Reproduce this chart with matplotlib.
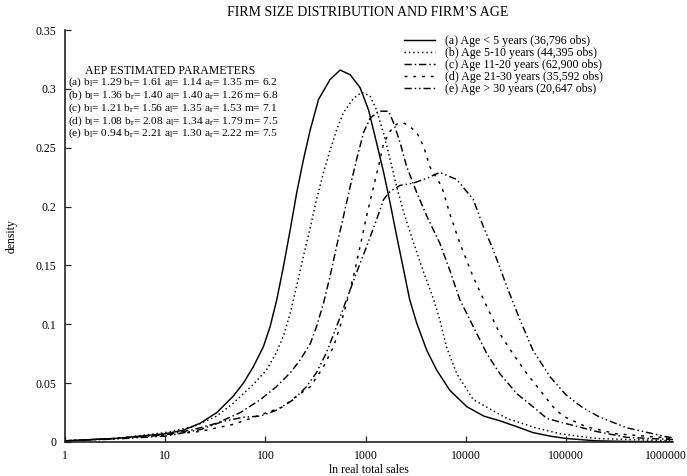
import numpy as np
import matplotlib
matplotlib.use('Agg')
import matplotlib.pyplot as plt
from matplotlib.ticker import NullLocator, FixedLocator, FixedFormatter

plt.rcParams['font.family'] = ['Liberation Serif', 'DejaVu Serif']
plt.rcParams['mathtext.fontset'] = 'custom'
plt.rcParams['mathtext.rm'] = 'Liberation Serif'
plt.rcParams['mathtext.it'] = 'Liberation Serif:italic'

# ---- data: log10(real total sales) and density ----
a_logx = [0, 0.5, 1.0, 1.18, 1.35, 1.515, 1.68, 1.78, 1.88, 1.98, 2.047, 2.114, 2.18, 2.247, 2.313,
          2.38, 2.447, 2.53, 2.646, 2.746, 2.846, 2.945, 3.03, 3.11, 3.18, 3.245, 3.31, 3.38, 3.44,
          3.51, 3.61, 3.71, 3.84, 4.01, 4.18, 4.34, 4.51, 4.67, 4.84, 5.0, 5.3, 5.6, 6.07]
a_dens = [0.001, 0.003, 0.007, 0.010, 0.016, 0.025, 0.039, 0.050, 0.064, 0.081, 0.098, 0.121, 0.149,
          0.180, 0.212, 0.240, 0.265, 0.291, 0.308, 0.316, 0.312, 0.301, 0.282, 0.254, 0.229, 0.203,
          0.175, 0.146, 0.121, 0.101, 0.078, 0.061, 0.044, 0.030, 0.022, 0.018, 0.013, 0.008, 0.005,
          0.003, 0.001, 0.0005, 0.0002]

b_logx = [0, 0.5, 1.0, 1.28, 1.515, 1.68, 1.88, 2.01, 2.11, 2.18, 2.25, 2.31, 2.38, 2.45, 2.51, 2.58,
          2.646, 2.71, 2.78, 2.88, 2.96, 3.045, 3.11, 3.18, 3.245, 3.31, 3.38, 3.48, 3.58, 3.68, 3.74,
          3.81, 3.91, 4.075, 4.41, 4.7, 4.94, 5.3, 6.07]
b_dens = [0.001, 0.003, 0.008, 0.013, 0.022, 0.033, 0.049, 0.061, 0.076, 0.090, 0.110, 0.132, 0.158,
          0.183, 0.206, 0.229, 0.248, 0.265, 0.280, 0.292, 0.297, 0.294, 0.282, 0.262, 0.240, 0.217,
          0.195, 0.169, 0.144, 0.121, 0.104, 0.080, 0.058, 0.036, 0.020, 0.012, 0.007, 0.003, 0.001]

c_logx = [0, 0.5, 1.0, 1.28, 1.515, 1.75, 1.95, 2.11, 2.25, 2.35, 2.45, 2.51, 2.58, 2.646, 2.71, 2.78,
          2.846, 2.91, 2.98, 3.045, 3.13, 3.23, 3.28, 3.345, 3.41, 3.51, 3.61, 3.74, 3.84, 3.94, 4.075,
          4.21, 4.34, 4.51, 4.67, 4.81, 4.94, 5.3, 5.6, 6.07]
c_dens = [0.001, 0.003, 0.006, 0.0105, 0.016, 0.025, 0.036, 0.047, 0.059, 0.070, 0.084, 0.098, 0.118,
          0.141, 0.166, 0.192, 0.217, 0.240, 0.263, 0.275, 0.281, 0.281, 0.271, 0.254, 0.234, 0.212,
          0.192, 0.169, 0.146, 0.121, 0.098, 0.075, 0.058, 0.041, 0.030, 0.020, 0.017, 0.009, 0.004, 0.002]

d_logx = [0, 0.5, 1.0, 1.35, 1.68, 1.95, 2.18, 2.31, 2.45, 2.58, 2.68, 2.745, 2.81, 2.88, 2.945, 3.01,
          3.08, 3.145, 3.18, 3.245, 3.31, 3.38, 3.44, 3.51, 3.58, 3.64, 3.76, 3.84, 3.94, 4.075, 4.21,
          4.34, 4.47, 4.61, 4.74, 4.87, 4.97, 5.2, 5.5, 6.07]
d_dens = [0.001, 0.003, 0.006, 0.009, 0.015, 0.023, 0.030, 0.039, 0.047, 0.064, 0.081, 0.098, 0.118,
          0.141, 0.166, 0.192, 0.217, 0.240, 0.254, 0.264, 0.270, 0.271, 0.268, 0.263, 0.251, 0.234,
          0.217, 0.194, 0.169, 0.140, 0.115, 0.092, 0.075, 0.058, 0.044, 0.030, 0.022, 0.013, 0.007, 0.003]

e_logx = [0, 0.5, 1.0, 1.35, 1.58, 1.78, 1.95, 2.11, 2.28, 2.41, 2.51, 2.61, 2.71, 2.81, 2.91, 3.01,
          3.11, 3.18, 3.245, 3.345, 3.48, 3.61, 3.74, 3.91, 4.075, 4.175, 4.275, 4.41, 4.54, 4.67, 4.84,
          5.0, 5.17, 5.34, 5.61, 6.0, 6.07]
e_dens = [0.001, 0.0025, 0.005, 0.0105, 0.0176, 0.021, 0.022, 0.027, 0.036, 0.047, 0.059, 0.076, 0.098,
          0.121, 0.144, 0.166, 0.189, 0.206, 0.213, 0.218, 0.220, 0.224, 0.229, 0.223, 0.206, 0.183,
          0.163, 0.132, 0.104, 0.078, 0.0555, 0.040, 0.029, 0.021, 0.012, 0.0045, 0.0035]

series_labels = ['(a) Age < 5 years (36,796 obs)',
                 '(b) Age 5-10 years (44,395 obs)',
                 '(c) Age 11-20 years (62,900 obs)',
                 '(d) Age 21-30 years (35,592 obs)',
                 '(e) Age > 30 years (20,647 obs)']

param_tags = ['(a)', '(b)', '(c)', '(d)', '(e)']
b_l = ['1.29', '1.36', '1.21', '1.08', '0.94']
b_r = ['1.61', '1.40', '1.56', '2.08', '2.21']
a_l = ['1.14', '1.40', '1.35', '1.34', '1.30']
a_r = ['1.35', '1.26', '1.53', '1.79', '2.22']
m_val = ['6.2', '6.8', '7.1', '7.5', '7.5']

xtick_vals = [1, 10, 100, 1000, 10000, 100000, 1000000]
xtick_labels = ['1', '10', '100', '1000', '10000', '100000', '1000000']
ytick_vals = [0, 0.05, 0.1, 0.15, 0.2, 0.25, 0.3, 0.35]
ytick_labels = ['0', '0.05', '0.1', '0.15', '0.2', '0.25', '0.3', '0.35']

# ---- figure ----
W, H = 687, 476
fig = plt.figure(figsize=(W / 100, H / 100), dpi=100)
L, R, T, B = 65, 673, 30, 442
ax = fig.add_axes([L / W, 1 - B / H, (R - L) / W, (B - T) / H])

styles = ['-', (0, (1, 2)), (0, (5, 2, 1, 2)), (0, (2, 4)), (0, (5, 2, 1, 2, 1, 2))]
all_x = [a_logx, b_logx, c_logx, d_logx, e_logx]
all_y = [a_dens, b_dens, c_dens, d_dens, e_dens]
handles = []
for xs, ys, ls, lab in zip(all_x, all_y, styles, series_labels):
    h, = ax.plot(10 ** np.array(xs), ys, color='black', lw=1.05, linestyle=ls, label=lab)
    handles.append(h)

ax.set_xscale('log')
ax.set_xlim(1, 10 ** 6.068)
ax.set_ylim(0, 0.35)
ax.xaxis.set_major_locator(FixedLocator(xtick_vals))
ax.xaxis.set_major_formatter(FixedFormatter(xtick_labels))
ax.xaxis.set_minor_locator(NullLocator())
ax.yaxis.set_major_locator(FixedLocator(ytick_vals))
ax.yaxis.set_major_formatter(FixedFormatter(ytick_labels))
for s in ['top', 'right']:
    ax.spines[s].set_visible(False)
for s in ['left', 'bottom']:
    ax.spines[s].set_linewidth(1.2)
    ax.spines[s].set_color('#222222')
ax.tick_params(direction='in', length=4.5, width=0.9, labelsize=8.5, pad=6, colors='#222222',
               labelcolor='black')

leg = ax.legend(handles=handles, loc='upper left', bbox_to_anchor=(404 / W, 1 - 35 / H),
                bbox_transform=fig.transFigure, frameon=False, borderpad=0, borderaxespad=0,
                handlelength=2.6, handletextpad=0.8, labelspacing=0.0, fontsize=8.6)

fig.text(368 / W, 1 - 12 / H, 'FIRM SIZE DISTRIBUTION AND FIRM\u2019S AGE', ha='center', va='center',
         fontsize=10)
fig.text(369 / W, 1 - 470 / H, 'ln real total sales', ha='center', va='center', fontsize=8.5)
fig.text(12 / W, 1 - 236 / H, 'density', ha='center', va='center', rotation=90, fontsize=8.5)

fig.text(85 / W, 1 - 71 / H, 'AEP ESTIMATED PARAMETERS', ha='left', va='center', fontsize=8.5)
param_lines = []
for i in range(5):
    param_lines.append(param_tags[i] + ' b$_{\\mathrm{l}}$= ' + b_l[i] + ' b$_{\\mathrm{r}}$= ' + b_r[i] +
                       ' a$_{\\mathrm{l}}$= ' + a_l[i] + ' a$_{\\mathrm{r}}$= ' + a_r[i] + ' m= ' + m_val[i])
fig.text(68 / W, 1 - 108 / H, '\n'.join(param_lines), ha='left', va='center', fontsize=8.2,
         linespacing=0.92)

fig.savefig('out.png', dpi=100)
